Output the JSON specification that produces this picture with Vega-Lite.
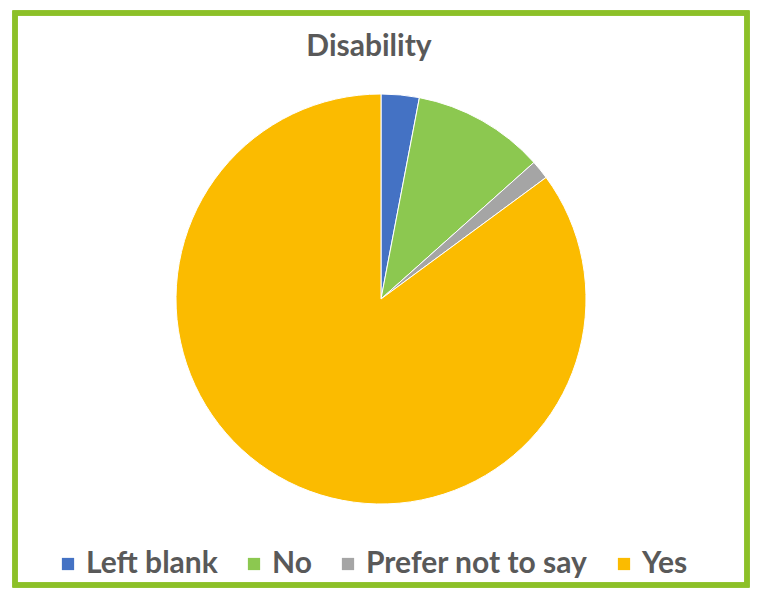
{
  "$schema": "https://vega.github.io/schema/vega-lite/v6.json",
  "width": 760,
  "height": 597,
  "autosize": {"type": "fit", "contains": "padding"},
  "padding": {"left": 12, "top": 10, "right": 10, "bottom": 9},
  "background": "white",
  "title": {
    "text": "Disability",
    "offset": -75,
    "baseline": "alphabetic",
    "anchor": "middle",
    "dx": -12,
    "font": "Lato",
    "fontSize": 30,
    "fontWeight": "bold",
    "color": "#595959"
  },
  "config": {
    "view": {"stroke": null}
  },
  "data": {
    "values": [
      {"category": "Left blank", "value": 3.0, "rank": 1},
      {"category": "No", "value": 10.4, "rank": 2},
      {"category": "Prefer not to say", "value": 1.5, "rank": 3},
      {"category": "Yes", "value": 85.1, "rank": 4}
    ]
  },
  "layer": [
    {
      "mark": {"type": "rect", "fill": null, "fillOpacity": 0, "stroke": "#8cc028", "strokeWidth": 5},
      "encoding": {}
    },
    {
      "mark": {"type": "arc", "outerRadius": 205, "stroke": "white", "strokeWidth": 1},
      "encoding": {
        "theta": {"field": "value", "type": "quantitative", "stack": true},
        "order": {"field": "rank", "type": "quantitative"},
        "color": {
          "field": "category",
          "type": "nominal",
          "scale": {
            "domain": ["Left blank", "No", "Prefer not to say", "Yes"],
            "range": ["#4472c4", "#8cc850", "#a5a5a5", "#fbbb00"]
          },
          "legend": {
            "title": null,
            "orient": "none",
            "direction": "horizontal",
            "legendX": 38,
            "legendY": 536,
            "symbolType": "square",
            "symbolSize": 150,
            "symbolStrokeWidth": 0,
            "labelFont": "Lato",
            "labelFontSize": 30,
            "labelFontWeight": "bold",
            "labelColor": "#595959",
            "labelOffset": 3,
            "columnPadding": 21,
            "labelLimit": 400
          }
        }
      }
    }
  ]
}
